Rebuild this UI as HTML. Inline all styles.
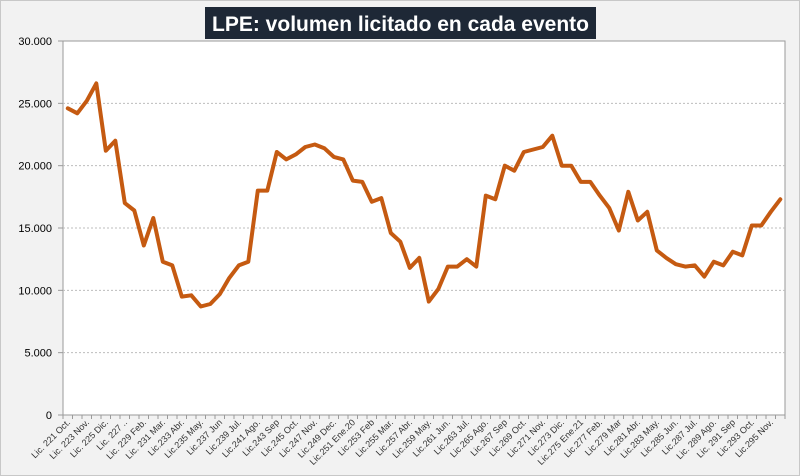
<!DOCTYPE html>
<html><head><meta charset="utf-8"><style>
html,body{margin:0;padding:0;background:#f2f2f2;}
svg{display:block;font-family:"Liberation Sans",sans-serif;}
</style></head><body>
<svg id="chart" width="800" height="476" viewBox="0 0 800 476">
<rect x="0.5" y="0.5" width="799" height="475" fill="#f2f2f2" stroke="#c8c8c8"/>
<rect x="205" y="7" width="391" height="32" fill="#1e2836"/>
<text x="212" y="31" fill="#fff" font-size="21" font-weight="bold" textLength="377" lengthAdjust="spacingAndGlyphs">LPE: volumen licitado en cada evento</text>
<rect x="63" y="41" width="722" height="374" fill="#fff" stroke="#9a9a9a"/>
<g id="grid"></g><g id="yt"></g><g id="xt"></g><g id="series"></g>
</svg>
<script>
const values=[24.6,24.2,25.2,26.6,21.2,22.0,17.0,16.4,13.6,15.8,12.3,12.0,9.5,9.6,8.7,8.9,9.7,11.0,12.0,12.3,18.0,18.0,21.1,20.5,20.9,21.5,21.7,21.4,20.7,20.5,18.8,18.7,17.1,17.4,14.6,13.9,11.8,12.6,9.1,10.1,11.9,11.9,12.5,11.9,17.6,17.3,20.0,19.6,21.1,21.3,21.5,22.4,20.0,20.0,18.7,18.7,17.6,16.6,14.8,17.9,15.6,16.3,13.2,12.6,12.1,11.9,12.0,11.1,12.3,12.0,13.1,12.8,15.2,15.2,16.3,17.3];
const labels=["Lic. 221 Oct.","Lic. 223 Nov.","Lic. 225 Dic.","Lic. 227 ..","Lic. 229 Feb.","Lic. 231 Mar.","Lic.233 Abr.","Lic.235 May.","Lic.237 Jun","Lic.239 Jul.","Lic.241 Ago.","Lic.243 Sep","Lic.245 Oct.","Lic.247 Nov.","Lic.249 Dec.","Lic.251 Ene.20","Lic.253 Feb","Lic.255 Mar.","Lic.257 Abr.","Lic.259 May.","Lic.261 Jun.","Lic.263 Jul.","Lic.265 Ago.","Lic.267 Sep","Lic.269 Oct.","Lic.271 Nov.","Lic.273 Dic.","Lic.275 Ene.21","Lic.277 Feb.","Lic.279 Mar","Lic.281 Abr.","Lic.283 May.","Lic.285 Jun.","Lic.287 Jul.","Lic. 289 Ago.","Lic. 291 Sep","Lic.293 Oct.","Lic.295 Nov."];
const yTicks=[0,5,10,15,20,25,30];
const yTickLabels=["0","5.000","10.000","15.000","20.000","25.000","30.000"];
const NS="http://www.w3.org/2000/svg";
const X0=63,X1=785,Y0=415,Y1=41;
const n=values.length,cw=(X1-X0)/n;
const xs=i=>X0+cw*(i+0.5);
const ys=v=>Y0-(v/30)*(Y0-Y1);
function mk(tag,attrs,parent){const e=document.createElementNS(NS,tag);for(const k in attrs)e.setAttribute(k,attrs[k]);parent.appendChild(e);return e;}
const grid=document.getElementById('grid'),yt=document.getElementById('yt'),xt=document.getElementById('xt'),ser=document.getElementById('series');
yTicks.forEach((t,i)=>{const y=ys(t);
 if(t>0&&t<30){const l=mk('line',{x1:X0,x2:X1,y1:y,y2:y,stroke:'#bdbdbd','stroke-dasharray':'2,2'},grid);
 
 }
 const tk=mk('line',{x1:X0-5,x2:X0,y1:y,y2:y,stroke:'#9a9a9a'},yt);
 
 
 const tx=mk('text',{x:52,y:y+4,'text-anchor':'end','font-size':11,fill:'#000'},yt);tx.textContent=yTickLabels[i];
 
 
});
for(let i=0;i<=n;i++){const x=X0+cw*i;const tk=mk('line',{x1:x,x2:x,y1:Y0,y2:Y0+4,stroke:'#9a9a9a'},xt);
 
 }
labels.forEach((lb,j)=>{const x=xs(j*2)+3,y=Y0+8;
 const tx=mk('text',{x:x,y:y,'text-anchor':'end','font-size':9,fill:'#333',transform:`rotate(-45 ${x} ${y})`},xt);tx.textContent=lb;
 
 
});
const pts=values.map((v,i)=>xs(i).toFixed(1)+','+ys(v).toFixed(1)).join(' ');
const pl=mk('polyline',{points:pts,fill:'none',stroke:'#c55a11','stroke-width':4,'stroke-linejoin':'round','stroke-linecap':'round'},ser);


</script>
</body></html>
